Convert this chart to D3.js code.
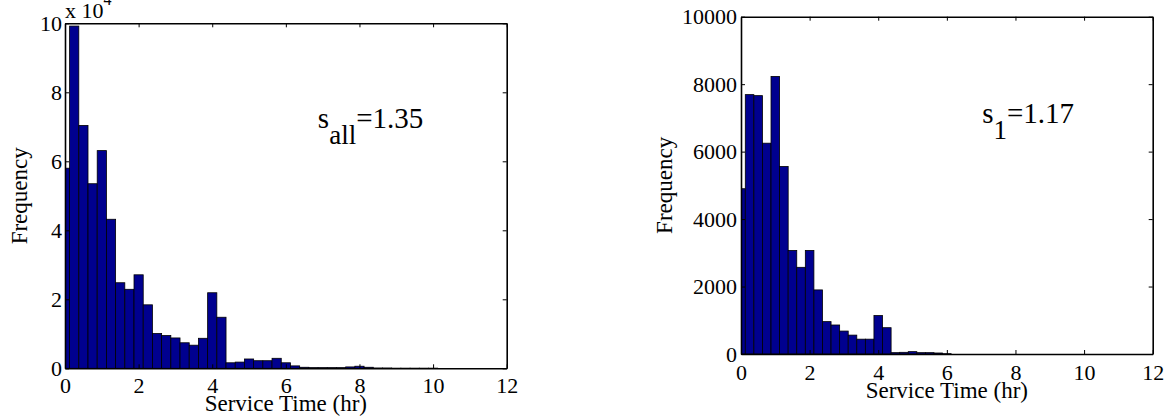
<!DOCTYPE html>
<html>
<head>
<meta charset="utf-8">
<script src="https://cdn.jsdelivr.net/npm/d3@7"></script>
<style>
body { margin: 0; background: #fff; }
svg { display: block; }
svg text, svg tspan { font-family: "Liberation Serif", "Times New Roman", serif; fill: #000; }
</style>
</head>
<body>
<svg id="chart" width="1176" height="416" font-family="Liberation Serif"></svg>
<script>
// histogram bins are centred on 0, 0.25, 0.5 ... hr
var binWidth = 0.25;
var xTicks = [0, 2, 4, 6, 8, 10, 12];

// all servers, counts per bin
var allFreq = [58000, 99200, 70400, 53500, 63100, 43200, 24800, 22900, 27100, 18400,
  10100, 9500, 8800, 7400, 6700, 8700, 21900, 14800, 1600, 1800,
  2700, 2200, 2200, 2900, 1600, 700, 300, 200, 200, 200,
  200, 400, 600, 300, 100, 100, 50, 50, 50, 50, 50];
var allTicks = [0, 20000, 40000, 60000, 80000, 100000];

// server 1, counts per bin
var s1Freq = [4900, 7690, 7660, 6250, 8230, 5560, 3070, 2570, 3070, 1900,
  960, 860, 680, 560, 440, 440, 1140, 780, 40, 50,
  70, 40, 40, 30, 10];
var s1Ticks = [0, 2000, 4000, 6000, 8000, 10000];

var svg = d3.select('#chart');

function styleAxis(sel, size) {
  sel.attr('font-family', null).attr('font-size', size);
  sel.select('.domain').attr('stroke', '#000').attr('stroke-width', 1.6);
  sel.selectAll('.tick line').attr('stroke', '#000').attr('stroke-width', 1);
}

function drawHist(cfg) {
  var x = d3.scaleLinear().domain([0, 12]).range([cfg.left, cfg.right]);
  var y = d3.scaleLinear().domain([0, cfg.yMax]).range([cfg.bottom, cfg.top]);
  var g = svg.append('g');

  g.append('clipPath').attr('id', 'clip-' + cfg.id)
    .append('rect')
    .attr('x', cfg.left).attr('y', cfg.top)
    .attr('width', cfg.right - cfg.left).attr('height', cfg.bottom - cfg.top);

  var bins = cfg.freq.map(function(v, i) { return {c: i * binWidth, v: v}; })
    .filter(function(d) { return d.v > 0; });

  g.append('g').attr('clip-path', 'url(#clip-' + cfg.id + ')')
    .selectAll('rect').data(bins)
    .enter().append('rect')
    .attr('x', function(d) { return x(d.c - binWidth / 2); })
    .attr('width', x(binWidth) - x(0))
    .attr('y', function(d) { return y(d.v); })
    .attr('height', function(d) { return y(0) - y(d.v); })
    .attr('fill', '#00008f')
    .attr('stroke', '#000')
    .attr('stroke-width', 0.8);

  // box with inward ticks
  g.append('g').attr('transform', 'translate(0,' + cfg.bottom + ')')
    .call(d3.axisBottom(x).tickValues(xTicks).tickSizeInner(-4).tickSizeOuter(0).tickPadding(cfg.xPad))
    .call(styleAxis, 22);
  g.append('g').attr('transform', 'translate(0,' + cfg.top + ')')
    .call(d3.axisTop(x).tickValues(xTicks).tickSizeInner(-4).tickSizeOuter(0).tickFormat(''))
    .call(styleAxis, 22);
  g.append('g').attr('transform', 'translate(' + cfg.left + ',0)')
    .call(d3.axisLeft(y).tickValues(cfg.ticks).tickSizeInner(-4).tickSizeOuter(0)
      .tickPadding(cfg.yPad).tickFormat(cfg.fmt))
    .call(styleAxis, 22);
  g.append('g').attr('transform', 'translate(' + cfg.right + ',0)')
    .call(d3.axisRight(y).tickValues(cfg.ticks).tickSizeInner(-4).tickSizeOuter(0).tickFormat(''))
    .call(styleAxis, 22);

  g.append('text')
    .attr('x', (cfg.left + cfg.right) / 2).attr('y', cfg.bottom + cfg.xLabelGap)
    .attr('text-anchor', 'middle').attr('font-size', 23)
    .text('Service Time (hr)');

  g.append('text')
    .attr('transform', 'translate(' + cfg.yLabelX + ',' + (cfg.top + cfg.bottom) / 2 + ') rotate(-90)')
    .attr('text-anchor', 'middle').attr('font-size', 23)
    .text('Frequency');

  // s_xx = value note
  var note = g.append('text')
    .attr('x', x(cfg.note.x)).attr('y', y(cfg.note.y))
    .attr('font-size', 29);
  note.append('tspan').text('s');
  note.append('tspan').attr('dy', 16).attr('font-size', 27).text(cfg.note.sub);
  note.append('tspan').attr('dy', -16).text('=' + cfg.note.val);

  return g;
}

var left = drawHist({
  id: 'all', freq: allFreq, ticks: allTicks, yMax: 100000,
  fmt: function(d) { return d / 10000; },
  left: 65, right: 506.7, top: 23.3, bottom: 368.3,
  xPad: 9, yPad: 3, xLabelGap: 43, yLabelX: 27,
  note: {x: 6.87, y: 69600, sub: 'all', val: '1.35'}
});

// exponent over the y axis
var expo = left.append('text').attr('x', 65).attr('y', 18).attr('font-size', 22);
expo.append('tspan').text('x 10');
expo.append('tspan').attr('dy', -13).attr('font-size', 16).text('4');

drawHist({
  id: 's1', freq: s1Freq, ticks: s1Ticks, yMax: 10000,
  fmt: d3.format('d'),
  left: 741, right: 1152.7, top: 16.7, bottom: 354,
  xPad: 10, yPad: 4, xLabelGap: 44, yLabelX: 672,
  note: {x: 7.03, y: 6850, sub: '1', val: '1.17'}
});
</script>
</body>
</html>
